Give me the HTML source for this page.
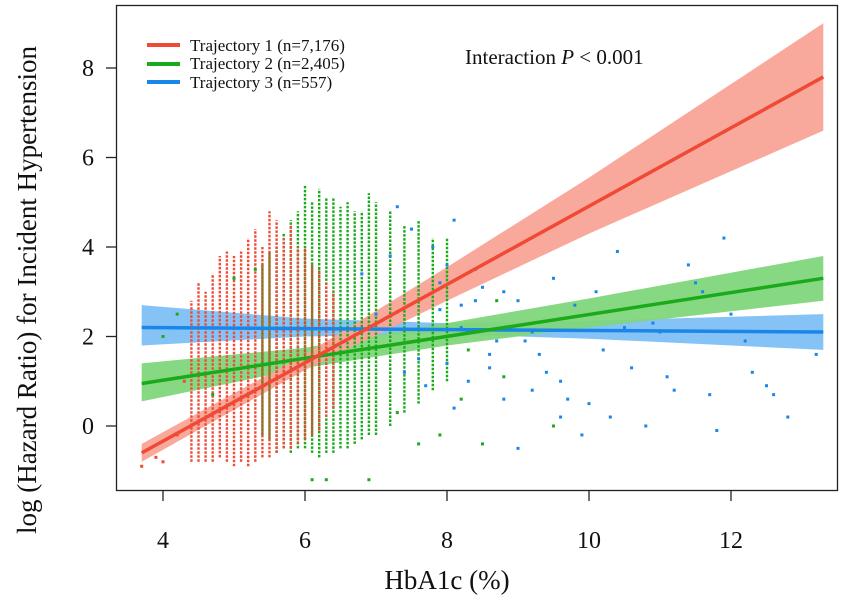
<!DOCTYPE html>
<html><head><meta charset="utf-8"><style>
body{margin:0;background:#fff}
svg{display:block;font-family:"Liberation Serif",serif}
</style></head><body>
<svg id="chart" width="851" height="602">
<g id="bands"></g><g id="pts"></g><g id="lines"></g>
<rect x="116.5" y="5.5" width="721" height="485" fill="none" stroke="#222" stroke-width="1.3"/>
<g id="axes"></g>
<text x="30" y="290" transform="rotate(-90 30 290)" text-anchor="middle" font-size="27" fill="#111" dominant-baseline="middle">log (Hazard Ratio) for Incident Hypertension</text>
<text x="447" y="589" text-anchor="middle" font-size="27" fill="#111">HbA1c (%)</text>
<text x="465" y="64" font-size="21" fill="#111">Interaction <tspan font-style="italic">P</tspan> &lt; 0.001</text>
<g>
<line x1="147" y1="45" x2="180" y2="45" stroke="#f04a36" stroke-width="4"/>
<text x="190" y="51" font-size="17" fill="#111">Trajectory 1 (n=7,176)</text>
<line x1="147" y1="64" x2="180" y2="64" stroke="#1aaa1a" stroke-width="4"/>
<text x="190" y="69" font-size="17" fill="#111">Trajectory 2 (n=2,405)</text>
<line x1="147" y1="82" x2="180" y2="82" stroke="#1a86e8" stroke-width="4"/>
<text x="190" y="88" font-size="17" fill="#111">Trajectory 3 (n=557)</text>
</g>
</svg>
<script>
const xTicks=[4,6,8,10,12];
const yTicks=[0,2,4,6,8];
const seriesNames=["trajectory-1","trajectory-2","trajectory-3"];
const lineX=[3.7,13.3];
const fitStart=[-0.6,0.95,2.2];
const fitEnd=[7.8,3.3,2.1];
const bandX=[3.7,6,8,10,13.3];
const band1Lo=[-0.8,1.25,2.8,4.3,6.6];
const band1Hi=[-0.4,1.6,3.55,5.55,9.0];
const band2Lo=[0.55,1.3,1.8,2.2,2.8];
const band2Hi=[1.4,1.75,2.3,2.85,3.8];
const band3Lo=[1.8,2.0,2.05,1.95,1.7];
const band3Hi=[2.7,2.4,2.3,2.35,2.5];
const redColX=[4.4,4.5,4.6,4.7,4.8,4.9,5.0,5.1,5.2,5.3,5.4,5.5,5.6,5.7,5.8,5.9,6.0,6.1,6.2,6.3,6.4];
const redColLo=[-0.8,-0.8,-0.8,-0.8,-0.7,-0.8,-0.9,-0.8,-0.9,-0.8,-0.7,-0.7,-0.6,-0.5,-0.5,-0.4,-0.3,-0.2,-0.1,0.2,0.4];
const redColHi=[2.8,3.2,3.0,3.4,3.8,3.9,3.8,3.9,4.2,4.4,4.0,4.8,4.6,4.2,4.5,4.0,4.0,3.6,3.5,3.2,3.0];
const greenColX=[5.4,5.5,5.6,5.7,5.8,5.9,6.0,6.1,6.2,6.3,6.4,6.5,6.6,6.7,6.8,6.9,7.0,7.2,7.4,7.6,7.8,8.0];
const greenColLo=[-0.2,-0.3,-0.6,-0.5,-0.6,-0.5,-0.5,-0.6,-0.7,-0.6,-0.6,-0.5,-0.5,-0.4,-0.3,-0.2,-0.2,0.0,0.3,0.5,0.8,1.0];
const greenColHi=[3.6,3.9,4.0,4.3,4.6,4.8,5.4,5.0,5.3,5.1,5.1,4.9,5.0,4.8,4.8,5.2,5.0,4.8,4.5,4.6,4.2,4.2];
const blueX=[7.2,7.5,7.7,7.9,8.0,8.2,8.3,8.5,8.6,8.8,9.0,9.2,9.3,9.5,9.6,9.8,10.0,10.2,10.4,10.6,10.8,11.0,11.2,11.5,11.7,11.9,12.2,12.5,12.8,13.2,8.1,8.4,8.9,9.1,9.4,9.7,10.1,10.5,11.1,11.6,12.0,12.6,7.3,7.6,8.7,9.9,10.9,11.4,12.3,7.8,8.2,9.6,10.3,11.8,8.4,9.0,6.8,7.0,7.4,7.9,8.1,8.6,9.2,7.7,8.0,8.8];
const blueY=[3.8,4.4,2.9,2.6,3.6,2.7,1.0,3.1,1.3,0.6,2.8,0.8,1.6,3.3,0.2,2.7,0.5,1.7,3.9,1.3,0.0,2.1,0.8,3.2,0.7,4.2,1.9,0.9,0.2,1.6,4.6,3.5,2.2,1.9,1.2,0.6,3.0,2.2,1.1,3.0,2.5,0.7,4.9,1.5,1.9,-0.2,2.3,3.6,1.2,4.0,2.2,1.0,0.2,-0.1,2.8,-0.5,3.4,2.5,1.2,3.2,0.4,1.6,2.1,0.9,1.4,3.0];
const greenX=[4.2,4.7,5.0,4.0,5.3,8.2,8.5,8.8,9.5,7.6,8.3,6.9,7.3,8.7,7.9,6.1,6.3];
const greenY=[2.5,0.7,3.3,2.0,3.5,0.6,-0.4,1.1,0.0,-0.4,1.7,-1.2,0.3,2.8,-0.2,-1.2,-1.2];
const redX=[3.7,3.9,4.0,4.2,4.3];
const redY=[-0.9,-0.7,-0.8,-0.2,1.0];

const sx=v=>163+(v-4)*71;
const sy=v=>426-v*44.75;
const NS="http://www.w3.org/2000/svg";
function mk(t,p,a){const e=document.createElementNS(NS,t);for(const k in a)e.setAttribute(k,a[k]);p.appendChild(e);return e;}
const axes=document.getElementById('axes');
xTicks.forEach(v=>{
 const l=mk('line',axes,{x1:sx(v),x2:sx(v),y1:491,y2:501,stroke:'#222','stroke-width':1.3});
 
 
 const t=mk('text',axes,{x:sx(v),y:548,'text-anchor':'middle','font-size':24,fill:'#111'});t.textContent=v;
 
 
});
yTicks.forEach(v=>{
 const l=mk('line',axes,{x1:106,x2:116,y1:sy(v),y2:sy(v),stroke:'#222','stroke-width':1.3});
 
 
 const t=mk('text',axes,{x:88,y:sy(v)+8,'text-anchor':'middle','font-size':24,fill:'#111'});t.textContent=v;
 
 
});
const bandsG=document.getElementById('bands');
const bandLo=[band1Lo,band2Lo,band3Lo],bandHi=[band1Hi,band2Hi,band3Hi];
const bandCol=['#f9a497','#7fd67b','#7ec0f7'];
const lineCol=['#f04a36','#1aaa1a','#1a86e8'];
[2,1,0].forEach(i=>{
 let d='M'+bandX.map((x,j)=>sx(x)+','+sy(bandHi[i][j])).join('L');
 d+='L'+bandX.map((x,j)=>sx(x)+','+sy(bandLo[i][j])).reverse().join('L')+'Z';
 const p=mk('path',bandsG,{d:d,fill:bandCol[i],opacity:0.95});
 
 
});
const ptsG=document.getElementById('pts');
function cols(xs,lo,hi,c,n){xs.forEach((x,i)=>{
 const l=mk('line',ptsG,{x1:sx(x),x2:sx(x),y1:sy(lo[i]),y2:sy(hi[i]),stroke:c,'stroke-width':2.4,'stroke-dasharray':'2.5 1.5'});
 
 
});}
cols(greenColX,greenColLo,greenColHi,'#1aaa1a','trajectory-2');
cols(redColX,redColLo,redColHi,'#f04a36','trajectory-1');
function dots(xs,ys,c,n){xs.forEach((x,i)=>{
 const r=mk('rect',ptsG,{x:sx(x)-1.5,y:sy(ys[i])-1.5,width:3,height:3,fill:c});
 
 
});}
dots(redX,redY,'#f04a36','trajectory-1');
dots(greenX,greenY,'#1aaa1a','trajectory-2');
dots(blueX,blueY,'#1a86e8','trajectory-3');
const linesG=document.getElementById('lines');
[2,1,0].forEach(i=>{
 const l=mk('line',linesG,{x1:sx(lineX[0]),y1:sy(fitStart[i]),x2:sx(lineX[1]),y2:sy(fitEnd[i]),stroke:lineCol[i],'stroke-width':3.5});
 
 
});
</script>
</body></html>
